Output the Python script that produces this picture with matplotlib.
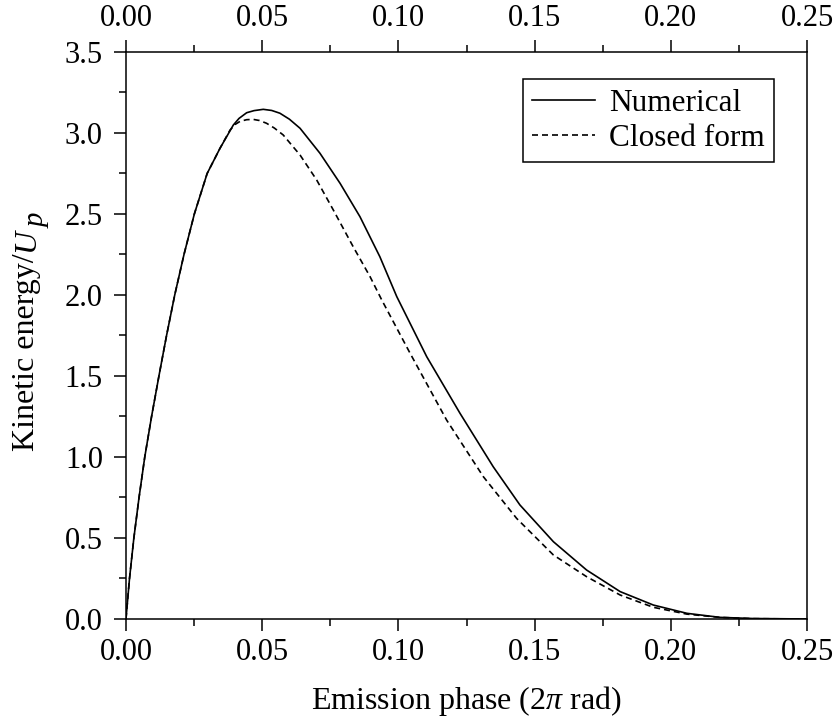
import matplotlib
matplotlib.use('Agg')
import matplotlib.pyplot as plt
from matplotlib.ticker import MultipleLocator

# Kinetic energy vs emission phase, numerical result and closed-form approximation
phase_num = [0.0, 0.0013, 0.0029, 0.0048, 0.0069, 0.0094, 0.0121, 0.0149, 0.0179,
             0.0213, 0.0251, 0.0298, 0.0345, 0.0394, 0.0415, 0.0443, 0.0470, 0.0504,
             0.0535, 0.0565, 0.0600, 0.0639, 0.0712, 0.0786, 0.0859, 0.0932, 0.0994,
             0.1104, 0.1226, 0.1348, 0.1446, 0.1569, 0.1691, 0.1814, 0.1936, 0.2059,
             0.2180, 0.2300, 0.2500]
energy_num = [0.0, 0.25, 0.50, 0.75, 1.00, 1.25, 1.50, 1.75, 2.00,
              2.25, 2.50, 2.75, 2.905, 3.049, 3.090, 3.125, 3.138, 3.146,
              3.139, 3.122, 3.085, 3.029, 2.875, 2.689, 2.483, 2.236, 1.990,
              1.619, 1.270, 0.940, 0.704, 0.477, 0.302, 0.169, 0.086, 0.035,
              0.010, 0.003, 0.0]

phase_cf = [0.0, 0.0013, 0.0029, 0.0048, 0.0069, 0.0094, 0.0121, 0.0149, 0.0179,
            0.0213, 0.0251, 0.0298, 0.0345, 0.0382, 0.0400, 0.0419, 0.0443, 0.0467,
            0.0490, 0.0516, 0.0545, 0.0577, 0.0639, 0.0700, 0.0761, 0.0834, 0.0896,
            0.0939, 0.1043, 0.1177, 0.1312, 0.1434, 0.1569, 0.1691, 0.1814, 0.1936,
            0.2059, 0.2180, 0.2300, 0.2500]
energy_cf = [0.0, 0.25, 0.50, 0.75, 1.00, 1.25, 1.50, 1.75, 2.00,
             2.25, 2.50, 2.75, 2.905, 3.018, 3.052, 3.072, 3.082, 3.084,
             3.077, 3.060, 3.030, 2.988, 2.864, 2.710, 2.525, 2.298, 2.113,
             1.969, 1.640, 1.228, 0.878, 0.621, 0.395, 0.261, 0.148, 0.072,
             0.030, 0.010, 0.002, 0.0]

tick_size = 22
label_size = 23
legend_size = 22.5
plt.rcParams.update({
    'font.family': ['Liberation Serif', 'DejaVu Serif'],
    'font.size': tick_size,
    'mathtext.fontset': 'custom',
    'mathtext.rm': 'Liberation Serif',
    'mathtext.it': 'Liberation Serif:italic',
    'axes.linewidth': 1.1,
})

fig = plt.figure(figsize=(8.37, 7.19), dpi=100)
ax = fig.add_axes([0.1505, 0.1391, 0.8137, 0.7886])

ax.plot(phase_num, energy_num, color='black', lw=1.2, label='Numerical',
        solid_joinstyle='round')
ax.plot(phase_cf, energy_cf, color='black', lw=1.2, linestyle=(0, (3.6, 2.4)),
        label='Closed form')

ax.set_xlim(0, 0.25)
ax.set_ylim(0, 3.5)
ax.xaxis.set_major_locator(MultipleLocator(0.05))
ax.xaxis.set_minor_locator(MultipleLocator(0.025))
ax.yaxis.set_major_locator(MultipleLocator(0.5))
ax.yaxis.set_minor_locator(MultipleLocator(0.25))
ax.xaxis.set_major_formatter(lambda v, pos: f'{v:.2f}')
ax.yaxis.set_major_formatter(lambda v, pos: f'{v:.1f}')

ax.tick_params(which='both', direction='out', top=True, labeltop=True,
               right=False, width=1.1, labelsize=tick_size)
ax.tick_params(axis='x', which='both', pad=5)
ax.tick_params(axis='y', which='both', pad=8)
ax.tick_params(which='major', length=8.6)
ax.tick_params(which='minor', length=5)

ax.set_xlabel(r'Emission phase (2$\pi$ rad)', fontsize=label_size, labelpad=12)

# y label: plain part, then a full-size italic U with a lowered p
ylab = ax.set_ylabel('Kinetic energy/', fontsize=label_size)
ax.yaxis.set_label_coords(-0.125, 0.47)
u_txt = ax.annotate('U', xy=(0, 1), xycoords=ylab, xytext=(0, 1),
                    textcoords='offset points', rotation=90,
                    ha='left', va='bottom', fontsize=label_size,
                    fontstyle='italic')
ax.annotate('p', xy=(0, 1), xycoords=u_txt, xytext=(9, 0.5),
            textcoords='offset points', rotation=90, ha='left', va='bottom',
            fontsize=label_size * 0.9, fontstyle='italic')

leg = ax.legend(loc='upper right', bbox_to_anchor=(0.9515, 0.952), fancybox=False,
                edgecolor='black', framealpha=1, handlelength=2.0,
                borderpad=0.3, labelspacing=0.2, handletextpad=0.45,
                borderaxespad=0, fontsize=legend_size)
leg.get_frame().set_linewidth(1.1)

fig.savefig('out.png', dpi=100)
